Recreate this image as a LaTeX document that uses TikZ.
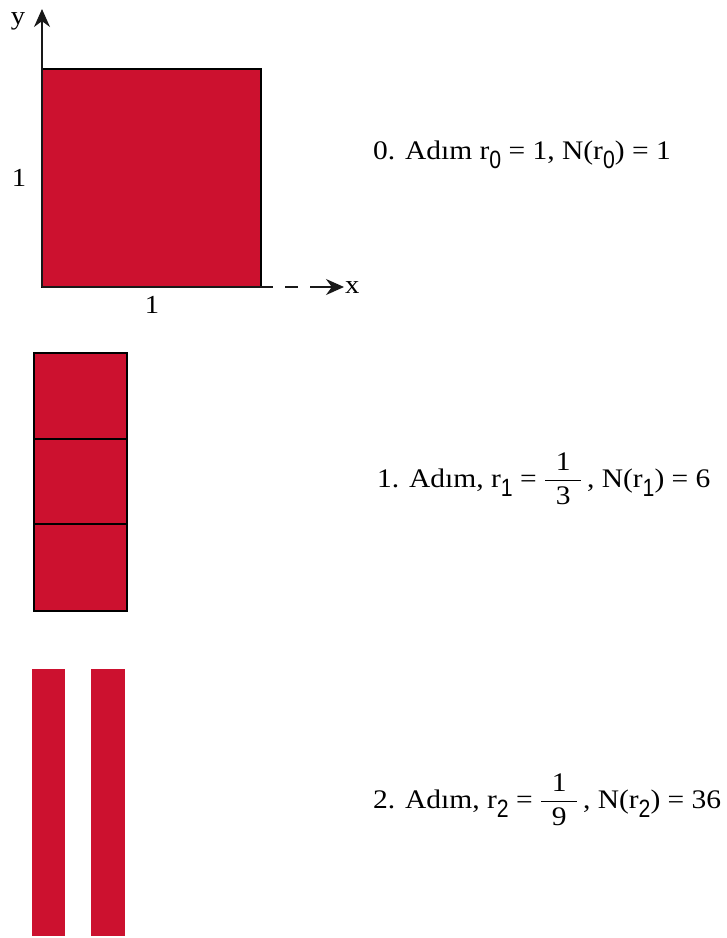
\documentclass[tikz,border=0pt]{standalone}
\usepackage{fontspec}
\usepackage{amsmath}
\setmainfont[FakeStretch=1.1]{Liberation Serif}
\newfontfamily\subfont[FakeStretch=0.85]{Liberation Sans}
\usetikzlibrary{arrows.meta}
\definecolor{fillred}{RGB}{204,17,47}
\newcommand\sbs[1]{\raisebox{-9pt}{\subfont\fontsize{25}{25}\selectfont #1}}
\newcommand\myfrac[2]{\ensuremath{\dfrac{\hbox{\hspace{0.4em}#1\hspace{0.4em}}}{\hbox{#2}}}}
\tikzset{
  redbox/.style={fill=fillred, draw=black, line width=1.2pt},
  redbar/.style={fill=fillred, draw=none},
  axis/.style={line width=1.6pt, draw=black!90},
  axarrow/.style={axis, -{Stealth[length=18pt,width=16pt]}},
  lbl/.style={font=\fontsize{26}{30}\selectfont, inner sep=0pt},
  steptext/.style={font=\fontsize{26.8}{30}\selectfont, inner sep=0pt, anchor=base west}
}
\begin{document}
\begin{tikzpicture}[x=1pt,y=-1pt]
\useasboundingbox (0,0) rectangle (727,938);
% step 0 square
\draw[redbox] (42,69) rectangle (261,287);
\coordinate (O) at (42,287);
\coordinate (ytip) at (42,9);
\coordinate (xb) at (273,287);
\coordinate (xc) at (285,287);
\coordinate (xd) at (298,287);
\coordinate (xe) at (310,287);
\coordinate (xtip) at (344,287);
\draw[axarrow] (O) -- (ytip);
\draw[axis] (O) -- (xb);
\draw[axis] (xc) -- (xd);
\draw[axarrow] (xe) -- (xtip);
\node[lbl] (ylab) at (18,21) {y};
\node[lbl, anchor=west] (xlab) at (345,288) {x};
\node[lbl] (one1) at (19,178) {1};
\node[lbl] (one2) at (152,305) {1};
% step 1
\draw[redbox] (34,353) rectangle (127,611);
\draw[line width=1.2pt] (34,439) -- (127,439);
\draw[line width=1.2pt] (34,524) -- (127,524);
% step 2
\fill[redbar] (32,669) rectangle (65,936);
\fill[redbar] (91,669) rectangle (125,936);
% texts
\node[steptext] (t0) at (373,159) {0. Adım r\sbs{0} = 1, N(r\sbs{0}) = 1};
\node[steptext] (t1) at (377,487) {1. Adım, r\sbs{1} = \myfrac{1}{3}\,, N(r\sbs{1}) = 6};
\node[steptext] (t2) at (373,808) {2. Adım, r\sbs{2} = \myfrac{1}{9}\,, N(r\sbs{2}) = 36};
\end{tikzpicture}
\end{document}
